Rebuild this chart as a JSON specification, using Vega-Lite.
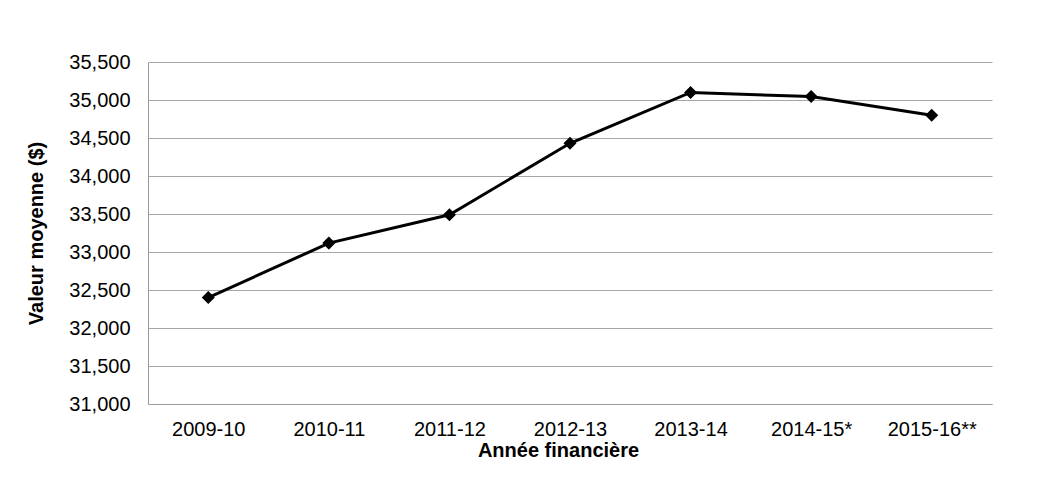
{
  "$schema": "https://vega.github.io/schema/vega-lite/v6.json",
  "width": 844,
  "height": 342,
  "autosize": {"type": "none"},
  "padding": {"left": 148, "top": 62, "right": 48, "bottom": 89},
  "background": "white",
  "config": {
    "font": "Liberation Sans",
    "view": {"stroke": null},
    "axis": {
      "labelFont": "Liberation Sans",
      "titleFont": "Liberation Sans",
      "labelColor": "#000000",
      "titleColor": "#000000",
      "labelFontSize": 20,
      "titleFontSize": 20,
      "titleFontWeight": "bold",
      "domainColor": "#9a9a9a",
      "gridColor": "#a6a6a6",
      "ticks": false
    }
  },
  "data": {
    "values": [
      {"annee": "2009-10", "valeur": 32400},
      {"annee": "2010-11", "valeur": 33117},
      {"annee": "2011-12", "valeur": 33490},
      {"annee": "2012-13", "valeur": 34430},
      {"annee": "2013-14", "valeur": 35100},
      {"annee": "2014-15*", "valeur": 35045},
      {"annee": "2015-16**", "valeur": 34800}
    ]
  },
  "encoding": {
    "x": {
      "field": "annee",
      "type": "ordinal",
      "sort": null,
      "scale": {"type": "point", "padding": 0.5},
      "axis": {
        "title": "Année financière",
        "labelAngle": 0,
        "labelPadding": 15,
        "titlePadding": 1,
        "titleFontSize": 20,
        "titleX": 410,
        "grid": false
      }
    },
    "y": {
      "field": "valeur",
      "type": "quantitative",
      "scale": {"domain": [31000, 35500], "nice": false, "zero": false},
      "axis": {
        "title": "Valeur moyenne ($)",
        "values": [31000, 31500, 32000, 32500, 33000, 33500, 34000, 34500, 35000, 35500],
        "format": ",.0f",
        "labelPadding": 18,
        "titlePadding": 22,
        "grid": true
      }
    }
  },
  "layer": [
    {"mark": {"type": "line", "color": "#000000", "strokeWidth": 3}},
    {"mark": {"type": "point", "shape": "diamond", "filled": true, "color": "#000000", "size": 170, "opacity": 1}}
  ]
}
